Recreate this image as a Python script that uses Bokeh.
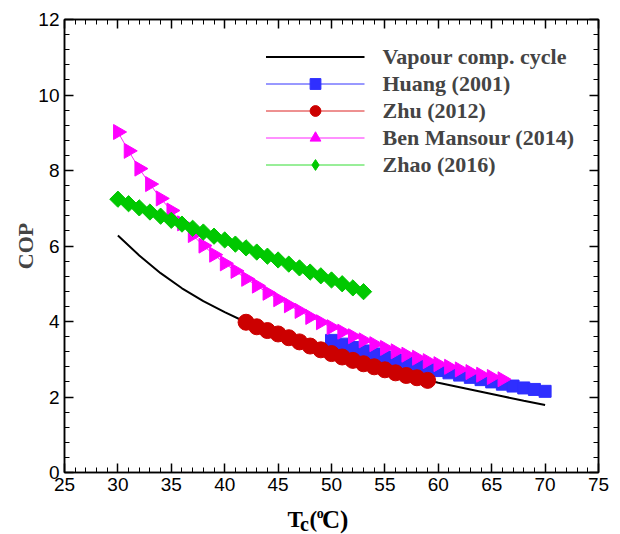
import math

from bokeh.core.properties import value
from bokeh.embed import file_html
from bokeh.layouts import column
from bokeh.models import (CustomJSTickFormatter, Legend, LegendItem,
                          LinearAxis, Range1d, SingleIntervalTicker)
from bokeh.plotting import figure
from bokeh.resources import INLINE

# ---- data: condenser temperature Tc (degC) vs COP ----
vcc_tc = [30, 32, 34, 36, 38, 40, 42, 44, 46, 48, 50,
          52, 54, 56, 58, 60, 62, 64, 66, 68, 70]
vcc_cop = [6.28, 5.75, 5.28, 4.88, 4.54, 4.25, 3.98, 3.74, 3.52, 3.32, 3.13,
           2.96, 2.81, 2.66, 2.52, 2.38, 2.26, 2.14, 2.02, 1.90, 1.79]

huang_tc = list(range(50, 71))
huang_cop = [3.50, 3.40, 3.31, 3.22, 3.14, 3.06, 2.98, 2.91, 2.84, 2.77, 2.70,
             2.64, 2.58, 2.52, 2.46, 2.40, 2.34, 2.29, 2.24, 2.20, 2.15]

zhu_tc = list(range(42, 60))
zhu_cop = [3.98, 3.86, 3.76, 3.67, 3.57, 3.46, 3.35, 3.25, 3.15, 3.06,
           2.97, 2.88, 2.80, 2.72, 2.64, 2.57, 2.51, 2.44]

mansour_tc = list(range(30, 67))
mansour_cop = [9.02, 8.52, 8.05, 7.64, 7.26, 6.94, 6.60, 6.29, 6.01, 5.77,
               5.54, 5.34, 5.13, 4.95, 4.76, 4.59, 4.43, 4.28, 4.12, 3.98,
               3.85, 3.73, 3.61, 3.50, 3.40, 3.30, 3.21, 3.12, 3.04, 2.95,
               2.87, 2.80, 2.73, 2.66, 2.59, 2.53, 2.47]

zhao_tc = list(range(30, 54))
zhao_cop = [7.24, 7.12, 7.01, 6.90, 6.79, 6.68, 6.58, 6.47, 6.37, 6.26,
            6.16, 6.05, 5.95, 5.84, 5.73, 5.63, 5.52, 5.42, 5.31, 5.21,
            5.10, 5.00, 4.89, 4.79]

labels = ["Vapour comp. cycle", "Huang (2001)", "Zhu (2012)",
          "Ben Mansour (2014)", "Zhao (2016)"]

SERIF = "Liberation Serif"
SANS = "Liberation Sans"

p = figure(width=620, height=505, output_backend="svg", toolbar_location=None,
           x_range=Range1d(25, 75), y_range=Range1d(0, 12),
           x_axis_location=None, y_axis_location=None,
           min_border_left=64, min_border_right=22,
           min_border_top=19, min_border_bottom=33)
p.grid.visible = False
p.outline_line_color = "black"
p.outline_line_width = 1.5
p.background_fill_color = "white"
p.border_fill_color = "white"


def make_axis(ticker_interval, show_labels, label=""):
    ax = LinearAxis(ticker=SingleIntervalTicker(interval=ticker_interval,
                                                num_minor_ticks=5))
    ax.axis_line_width = 1.5
    ax.major_tick_in = 9
    ax.major_tick_out = 0
    ax.minor_tick_in = 5
    ax.minor_tick_out = 0
    ax.major_tick_line_width = 1.5
    ax.minor_tick_line_width = 1
    if show_labels:
        ax.major_label_text_font = SANS
        ax.major_label_text_font_size = "19px"
        ax.major_label_text_color = "black"
        ax.major_label_standoff = 5
    else:
        ax.formatter = CustomJSTickFormatter(code="return ''")
        ax.major_label_text_font_size = "0px"
        ax.major_label_standoff = 0
    if label:
        ax.axis_label = label
        ax.axis_label_text_font = SERIF
        ax.axis_label_text_font_style = "bold"
        ax.axis_label_text_font_size = "22px"
        ax.axis_label_standoff = -3
    return ax


p.add_layout(make_axis(5, True), "below")
p.add_layout(make_axis(2, True, "COP"), "left")
p.add_layout(make_axis(5, False), "above")
p.add_layout(make_axis(2, False), "right")

# ---- series ----
r_vcc = p.line(vcc_tc, vcc_cop, line_color="black", line_width=2)

l_h = p.line(huang_tc, huang_cop, line_color="#3333ff", line_width=1)
m_h = p.scatter(huang_tc, huang_cop, marker="square", size=12,
                fill_color="#2f2fff", line_color="#2f2fff")

l_z = p.line(zhu_tc, zhu_cop, line_color="#dd2222", line_width=1)
m_z = p.scatter(zhu_tc, zhu_cop, marker="circle", size=16,
                fill_color="#cc0000", line_color="#cc0000")

l_m = p.line(mansour_tc, mansour_cop, line_color="#ff22ff", line_width=1)
m_m = p.scatter(mansour_tc, mansour_cop, marker="triangle", size=15,
                angle=-math.pi / 2, fill_color="#ff00ff", line_color="#ff00ff")

l_g = p.line(zhao_tc, zhao_cop, line_color="#33dd33", line_width=1)
# diamond key for the legend; it sits under the first Zhao marker
k_g = p.scatter(zhao_tc[:1], zhao_cop[:1], marker="diamond", size=14,
                fill_color="#00c800", line_color="#00c800")
m_g = p.scatter(zhao_tc, zhao_cop, marker="square", size=11.5,
                angle=math.pi / 4, fill_color="#00c800", line_color="#00c800")

legend = Legend(items=[
    LegendItem(label=labels[0], renderers=[r_vcc]),
    LegendItem(label=labels[1], renderers=[l_h, m_h]),
    LegendItem(label=labels[2], renderers=[l_z, m_z]),
    LegendItem(label=labels[3], renderers=[l_m, m_m]),
    LegendItem(label=labels[4], renderers=[l_g, k_g]),
], location="top_right")
legend.border_line_color = None
legend.background_fill_alpha = 0
legend.label_text_font = SERIF
legend.label_text_font_style = "bold"
legend.label_text_font_size = "22px"
legend.glyph_width = 99
legend.glyph_height = 27
legend.label_height = 24
legend.spacing = 0
legend.label_standoff = 18
legend.padding = 10
legend.margin = 24
p.add_layout(legend)

# ---- x-axis title strip: T_c (^oC), pieces laid out in pixel space ----
t = figure(width=620, height=29, output_backend="svg", toolbar_location=None,
           x_range=Range1d(0, 620), y_range=Range1d(534, 505),
           x_axis_location=None, y_axis_location=None,
           min_border=0, outline_line_color=None)
t.grid.visible = False
t.border_fill_color = "white"
title_pieces = [
    ("T", "23px", 259, 519),
    ("c", "20px", 273.5, 523),
    ("(", "23px", 284.5, 519),
    ("o", "14px", 293, 512.5),
    ("C)", "25px", 299, 519),
]
for txt, size, px, py in title_pieces:
    t.text(x=[px], y=[py], text=[txt], text_font=value(SERIF),
           text_font_style="bold", text_font_size=size, text_color="black",
           text_align="left", text_baseline="alphabetic")

open("out.html", "w").write(file_html(column(p, t, spacing=0), INLINE))
